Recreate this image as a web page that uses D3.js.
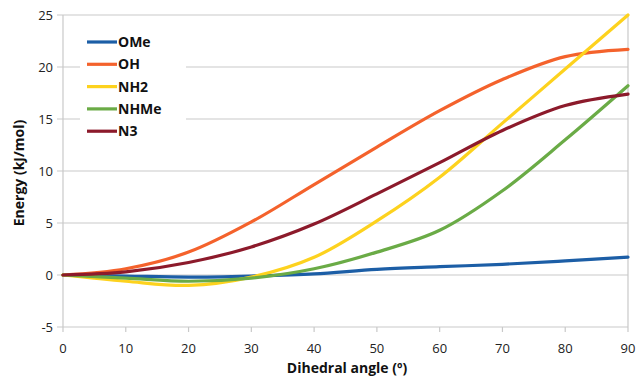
<!DOCTYPE html>
<html>
<head>
<meta charset="utf-8">
<script src="https://cdn.jsdelivr.net/npm/d3@7"></script>
<style>
  body { margin: 0; background: #fff; }
  svg { display: block; font-family: "Open Sans", "Liberation Sans", sans-serif; }
</style>
</head>
<body>
<svg id="chart" width="636" height="379"></svg>
<script>
// dihedral angle (deg)
const angles = [0, 10, 20, 30, 40, 50, 60, 70, 80, 90];

// energy (kJ/mol) per substituent
const ome  = [0, -0.1, -0.2, -0.1, 0.1, 0.55, 0.8, 1.03, 1.35, 1.72];
const oh   = [0, 0.6, 2.2, 5.1, 8.7, 12.3, 15.8, 18.8, 21.0, 21.7];
const nh2  = [0, -0.6, -1.0, -0.2, 1.7, 5.2, 9.4, 14.6, 19.8, 25.0];
const nhme = [0, -0.3, -0.6, -0.3, 0.6, 2.2, 4.3, 8.1, 13.0, 18.2];
const n3   = [0, 0.3, 1.2, 2.7, 4.9, 7.8, 10.8, 13.9, 16.3, 17.4];

const seriesNames = ["OMe", "OH", "NH2", "NHMe", "N3"];
const seriesValues = [ome, oh, nh2, nhme, n3];
const colors = ["#1c5ea6", "#f4622c", "#fdd21e", "#6aab46", "#8c1a2b"];

const xTicks = [0, 10, 20, 30, 40, 50, 60, 70, 80, 90];
const yTicks = [-5, 0, 5, 10, 15, 20, 25];

const margin = { top: 15, right: 8, bottom: 52, left: 63 };
const W = 636, H = 379;

const svg = d3.select("#chart");

const x = d3.scaleLinear().domain([0, 90]).range([margin.left, W - margin.right]);
const y = d3.scaleLinear().domain([-5, 25]).range([H - margin.bottom, margin.top]);

const GRID = "#c9c9c9";

// horizontal gridlines
svg.append("g")
  .selectAll("line")
  .data(yTicks)
  .join("line")
  .attr("x1", x(0) - 6)
  .attr("x2", x(90))
  .attr("y1", d => y(d))
  .attr("y2", d => y(d))
  .attr("stroke", GRID)
  .attr("stroke-width", 1.2);

// left axis line + right border
svg.append("line")
  .attr("x1", x(0)).attr("x2", x(0))
  .attr("y1", y(25)).attr("y2", y(-5))
  .attr("stroke", GRID).attr("stroke-width", 1.2);
svg.append("line")
  .attr("x1", x(90)).attr("x2", x(90))
  .attr("y1", y(25)).attr("y2", y(-5))
  .attr("stroke", GRID).attr("stroke-width", 1.2);

// x ticks
svg.append("g")
  .selectAll("line")
  .data(xTicks)
  .join("line")
  .attr("x1", d => x(d)).attr("x2", d => x(d))
  .attr("y1", y(-5)).attr("y2", y(-5) + 5)
  .attr("stroke", GRID).attr("stroke-width", 1.2);

// tick labels
svg.append("g")
  .selectAll("text")
  .data(yTicks)
  .join("text")
  .attr("x", x(0) - 10)
  .attr("y", d => y(d))
  .attr("dy", "0.35em")
  .attr("text-anchor", "end")
  .attr("font-size", 13)
  .attr("fill", "#222")
  .text(d => d);

svg.append("g")
  .selectAll("text")
  .data(xTicks)
  .join("text")
  .attr("x", d => x(d))
  .attr("y", y(-5) + 26)
  .attr("text-anchor", "middle")
  .attr("font-size", 13)
  .attr("fill", "#222")
  .text(d => d);

// axis titles
svg.append("text")
  .attr("x", 347)
  .attr("y", 373)
  .attr("text-anchor", "middle")
  .attr("font-size", 14)
  .attr("font-weight", "bold")
  .attr("fill", "#111")
  .text("Dihedral angle (º)");

svg.append("text")
  .attr("transform", `translate(24,${(y(25) + y(-5)) / 2 + 2}) rotate(-90)`)
  .attr("text-anchor", "middle")
  .attr("font-size", 14)
  .attr("font-weight", "bold")
  .attr("fill", "#111")
  .text("Energy (kJ/mol)");

// legend background (hides gridlines)
svg.append("rect")
  .attr("x", 80).attr("y", 30)
  .attr("width", 106).attr("height", 112)
  .attr("fill", "#fff");

// lines
const line = d3.line()
  .x((d, i) => x(angles[i]))
  .y(d => y(d))
  .curve(d3.curveCatmullRom.alpha(0.5));

svg.append("g")
  .attr("fill", "none")
  .attr("stroke-width", 3.2)
  .attr("stroke-linecap", "round")
  .selectAll("path")
  .data(seriesValues)
  .join("path")
  .attr("stroke", (d, i) => colors[i])
  .attr("d", d => line(d));

// legend
const legend = svg.append("g")
  .selectAll("g")
  .data(seriesNames)
  .join("g")
  .attr("transform", (d, i) => `translate(87,${42 + i * 22.3})`);

legend.append("line")
  .attr("x1", 0).attr("x2", 30)
  .attr("stroke", (d, i) => colors[i])
  .attr("stroke-width", 3.2);

legend.append("text")
  .attr("x", 31)
  .attr("dy", "0.36em")
  .attr("font-size", 14)
  .attr("font-weight", "bold")
  .attr("fill", "#111")
  .text(d => d);
</script>
</body>
</html>
